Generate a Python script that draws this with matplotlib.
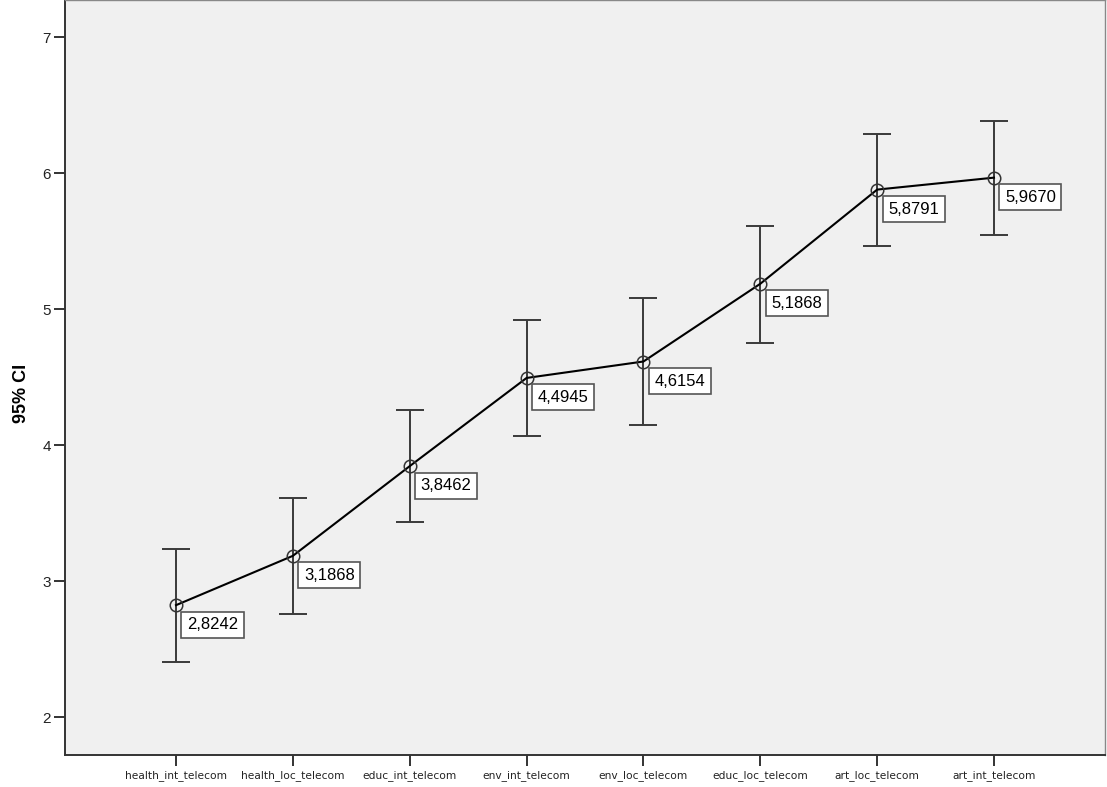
import numpy as np
import matplotlib.pyplot as plt

plt.rcParams['font.family'] = ['Liberation Sans', 'DejaVu Sans']

categories = ["health_int_telecom", "health_loc_telecom", "educ_int_telecom",
              "env_int_telecom", "env_loc_telecom", "educ_loc_telecom",
              "art_loc_telecom", "art_int_telecom"]
means = [2.8242, 3.1868, 3.8462, 4.4945, 4.6154, 5.1868, 5.8791, 5.9670]
ci_lower = [2.408, 2.759, 3.433, 4.069, 4.148, 4.755, 5.465, 5.544]
ci_upper = [3.234, 3.609, 4.258, 4.917, 5.083, 5.615, 6.291, 6.386]
y_ticks = [2, 3, 4, 5, 6, 7]


def main():
    fig = plt.figure(figsize=(11.07, 7.87), dpi=100)
    ax = fig.add_axes([0.0587, 0.0407, 0.9395, 0.9588])
    ax.set_facecolor("#f0f0f0")

    x = np.arange(len(categories))
    m = np.array(means)
    err = np.vstack([m - np.array(ci_lower), np.array(ci_upper) - m])

    # confidence interval whiskers
    ax.errorbar(x, m, yerr=err, fmt="none", ecolor="#3a3a3a",
                elinewidth=1.4, capsize=10, capthick=1.4, zorder=2)
    # mean line with open circles
    ax.plot(x, m, color="black", lw=1.5, marker="o", markersize=9,
            markerfacecolor="none", markeredgecolor="#333333",
            markeredgewidth=1.1, zorder=3)

    for xi, val in zip(x, means):
        label = f"{val:.4f}".replace(".", ",")
        ax.annotate(label, (xi, val), xytext=(11, -12),
                    textcoords="offset pixels", ha="left", va="top",
                    fontsize=12, color="black", zorder=4,
                    bbox=dict(boxstyle="square,pad=0.33", fc="white",
                              ec="#555555", lw=1.2))

    ax.set_xlim(-0.95, len(categories) - 1 + 0.95)
    ax.set_ylim(1.723, 7.27)
    ax.set_yticks(y_ticks)
    ax.set_yticklabels([str(t) for t in y_ticks], fontsize=11, color="#222222")
    ax.set_xticks(x)
    ax.set_xticklabels(categories, fontsize=7.7, color="#222222",
                       family="DejaVu Sans")
    ax.tick_params(axis="both", direction="out", length=8, width=1.4,
                   color="#333333")
    ax.tick_params(axis="x", pad=3)
    ax.tick_params(axis="y", pad=2)

    for side in ("left", "bottom"):
        ax.spines[side].set_color("#333333")
        ax.spines[side].set_linewidth(1.4)
    for side in ("top", "right"):
        ax.spines[side].set_color("#888888")
        ax.spines[side].set_linewidth(1.0)

    fig.text(22 / 1107, 1 - 393 / 787, "95% CI", rotation=90,
             fontsize=13, fontweight="bold", ha="center", va="center")

    fig.savefig("out.png", dpi=100, facecolor="white")


if __name__ == "__main__":
    main()
